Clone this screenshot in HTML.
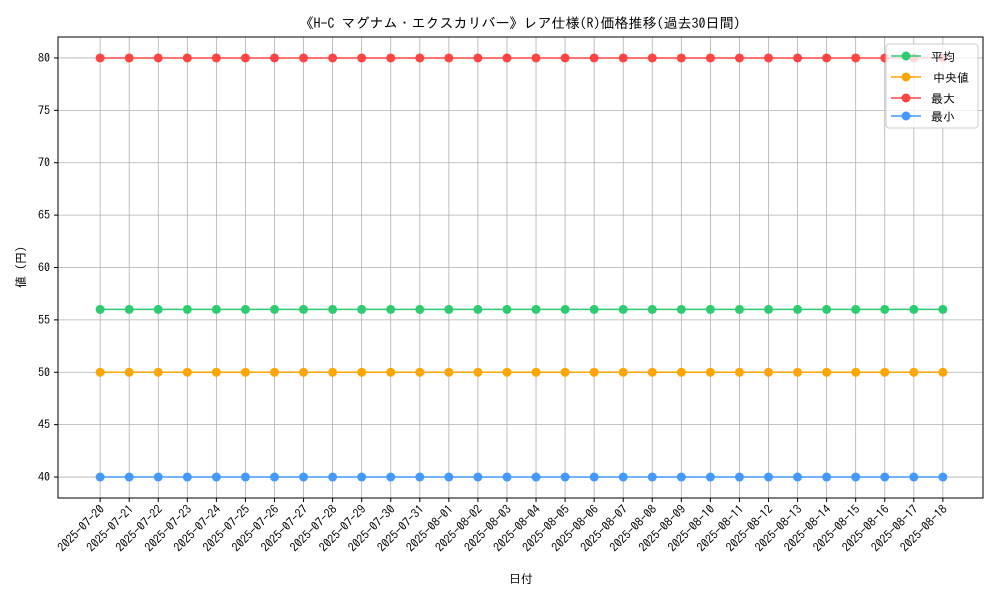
<!DOCTYPE html>
<html><head><meta charset="utf-8"><style>
body{margin:0;background:#fff}
svg{font-family:"IPAGothic","Liberation Sans","Noto Sans CJK JP",sans-serif}
</style></head><body>
<svg id="chart" width="1000" height="600" xmlns="http://www.w3.org/2000/svg">
<rect width="1000" height="600" fill="#fff"/>
<text x="520" y="28" text-anchor="middle" font-size="14">《H-C マグナム・エクスカリバー》レア仕様(R)価格推移(過去30日間)</text>
<g id="grid"></g><g id="axes"></g><g id="series"></g>
<text x="521" y="583" text-anchor="middle" font-size="12">日付</text>
<text transform="translate(25,267) rotate(-90)" text-anchor="middle" font-size="12">値 (円)</text>
<rect x="58" y="37" width="925" height="461" fill="none" stroke="#000" stroke-width="1"/>
<g id="legend"></g>
</svg>
<script>
const dates=["2025-07-20","2025-07-21","2025-07-22","2025-07-23","2025-07-24","2025-07-25","2025-07-26","2025-07-27","2025-07-28","2025-07-29","2025-07-30","2025-07-31","2025-08-01","2025-08-02","2025-08-03","2025-08-04","2025-08-05","2025-08-06","2025-08-07","2025-08-08","2025-08-09","2025-08-10","2025-08-11","2025-08-12","2025-08-13","2025-08-14","2025-08-15","2025-08-16","2025-08-17","2025-08-18"];
const avgVals=Array(30).fill(56);
const medVals=Array(30).fill(50);
const maxVals=Array(30).fill(80);
const minVals=Array(30).fill(40);
const yTicks=[40,45,50,55,60,65,70,75,80];
const seriesNames=["平均","中央値","最大","最小"];
const NS="http://www.w3.org/2000/svg";
const L=58,R=985,T=37,B=498,yMin=38,yMax=82;
const n=dates.length;
const xs=i=>L+(R-L)*(i+1.45)/(n-1+2.9);
const ys=v=>B-(v-yMin)/(yMax-yMin)*(B-T);
function mk(tag,attrs,parent){const e=document.createElementNS(NS,tag);for(const k in attrs)e.setAttribute(k,attrs[k]);document.getElementById(parent).appendChild(e);return e;}
dates.forEach((d,i)=>{
 const x=xs(i);
 const g=mk('line',{x1:x,x2:x,y1:T,y2:B,stroke:'#b0b0b0','stroke-width':0.8},'grid');
 
 
 const t=mk('line',{x1:x,x2:x,y1:B,y2:B+4,stroke:'#000'},'axes');
 
 
 const lb=mk('text',{x:x+5,y:B+12,'text-anchor':'end','font-size':12,transform:`rotate(-45 ${x+5} ${B+12})`},'axes');
 lb.textContent=d;
 
 
});
yTicks.forEach(v=>{
 const y=ys(v);
 const g=mk('line',{x1:L,x2:983,y1:y,y2:y,stroke:'#b0b0b0','stroke-width':0.8},'grid');
 
 
 const t=mk('line',{x1:L-4,x2:L,y1:y,y2:y,stroke:'#000'},'axes');
 
 
 const lb=mk('text',{x:L-8,y:y+4,'text-anchor':'end','font-size':12},'axes');
 lb.textContent=v;
 
 
});
const all=[[avgVals,'#2ecc71'],[medVals,'#ffa500'],[maxVals,'#ff4444'],[minVals,'#4499ff']];
all.forEach(([vals,c],si)=>{
 const p=mk('polyline',{points:vals.map((v,i)=>xs(i)+','+ys(v)).join(' '),fill:'none',stroke:c,'stroke-width':1.5},'series');
 
 
 vals.forEach((v,i)=>{
  const m=mk('circle',{cx:xs(i),cy:ys(v),r:4.5,fill:c},'series');
  
  
 });
});
const bx=mk('rect',{x:886,y:44,width:92,height:84,rx:3,fill:'#fff','fill-opacity':0.8,stroke:'#ccc'},'legend');


const rowsY=[56,77,98,116];
all.forEach(([v,c],i)=>{
 const y=rowsY[i];
 const l=mk('line',{x1:891,x2:921,y1:y,y2:y,stroke:c,'stroke-width':1.5},'legend');
 
 
 const cc=mk('circle',{cx:906,cy:y,r:4.5,fill:c},'legend');
 
 
 const t=mk('text',{x:i==1?933:931,y:y+5,'font-size':12},'legend');
 t.textContent=seriesNames[i];
 
 
});
</script>
</body></html>
